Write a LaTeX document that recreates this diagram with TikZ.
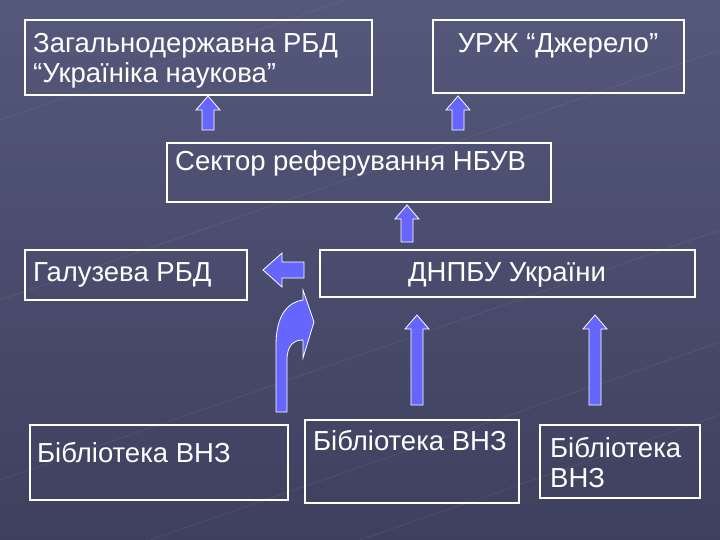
\documentclass[tikz,border=0pt]{standalone}
\usepackage{fontspec}
\setmainfont{Liberation Sans}
\definecolor{bgtop}{RGB}{84,88,122}
\definecolor{bgbot}{RGB}{62,64,94}
\definecolor{arr}{RGB}{102,102,255}
\tikzset{box/.style={draw=white,line width=1.5pt},
 txt/.style={text=white,font=\fontsize{27.5}{30}\selectfont,inner sep=0pt,align=left},
 blk/.style={fill=arr,draw=white,line width=0.8pt,line join=miter}}
\newcommand\blkup[3]{% x, ybottom, ytop
 \draw[blk] (#1-6,#2) -- (#1-6,#3+14) -- (#1-12,#3+14) -- (#1,#3) -- (#1+12,#3+14) -- (#1+6,#3+14) -- (#1+6,#2) -- cycle;}
\begin{document}
\begin{tikzpicture}[x=1pt,y=-1pt]
\shade[top color=bgtop,bottom color=bgbot] (0,0) rectangle (720,540);
\useasboundingbox (0,0) rectangle (720,540);
\foreach \a/\b in {0/120,0/300,0/480,150/540,360/540}{\draw[white,opacity=0.06,line width=1pt] (\a,\b) -- ++(720,-250);}
% boxes
\draw[box] (25,20) rectangle (372,95);
\node[txt,anchor=north west] (t1) at (33,33) {Загальнодержавна РБД\\“Україніка наукова”};
\draw[box] (433,20) rectangle (684,93);
\node[txt,anchor=north] (t2) at (558,33) {УРЖ “Джерело”};
\draw[box] (167,143) rectangle (551,202);
\node[txt,anchor=north west] (t3) at (175,150) {Сектор реферування НБУВ};
\draw[box] (25,250) rectangle (247,300);
\node[txt,anchor=north west] (t4) at (33,262) {Галузева РБД};
\draw[box] (320,250) rectangle (695,297);
\node[txt,anchor=north] (t5) at (507,262) {ДНПБУ України};
\draw[box] (30,425) rectangle (288,500);
\node[txt,anchor=north west] (t6) at (37,442) {Бібліотека ВНЗ};
\draw[box] (305,420) rectangle (519,503);
\node[txt,anchor=north west] (t7) at (313,430) {Бібліотека ВНЗ};
\draw[box] (540,425) rectangle (700,498);
\node[txt,anchor=north west] (t8) at (550,437) {Бібліотека\\ВНЗ};
% arrows
\blkup{208}{130}{96}
\blkup{458}{130}{96}
\blkup{407}{242}{205}
\blkup{417}{405}{315}
\blkup{595}{405}{315}
\draw[blk] (304,262) -- (282,262) -- (282,253) -- (263,270) -- (282,287) -- (282,278) -- (304,278) -- cycle;
\draw[blk] (276,412) -- (276,345) .. controls (276,315) and (288,302) .. (303,300) -- (303,290) -- (314,322) -- (303,358) -- (303,340)
 .. controls (294,340) and (287,345) .. (287,360) -- (287,412) -- cycle;
\end{tikzpicture}
\end{document}
